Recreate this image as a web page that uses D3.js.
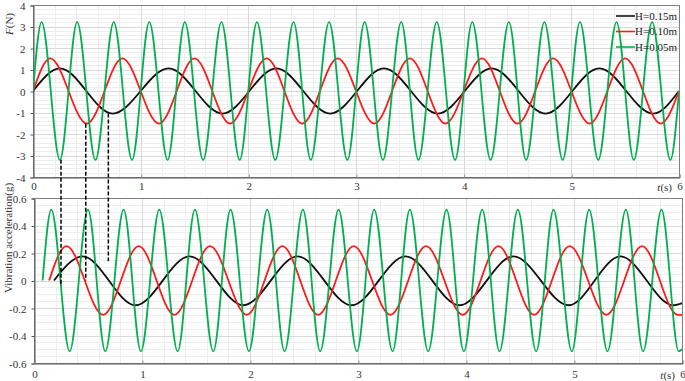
<!DOCTYPE html>
<html>
<head>
<meta charset="utf-8">
<script src="https://cdn.jsdelivr.net/npm/d3@7"></script>
<style>
  body { margin: 0; background: #fff; }
  svg { display: block; font-family: "Liberation Serif", "Times New Roman", serif; }
</style>
</head>
<body>
<div id="chart"></div>
<script>
const width = 685;
const height = 381;

// x ticks (time, s)
const timeTicks = [0, 1, 2, 3, 4, 5, 6];
const forceTicks = [-4, -3, -2, -1, 0, 1, 2, 3, 4];
const accTicks = [-0.6, -0.4, -0.2, 0, 0.2, 0.4, 0.6];

const seriesNames = ["H=0.15m", "H=0.10m", "H=0.05m"];
const seriesColors = ["#111111", "#ff1a1a", "#00b050"];

// top panel: force F(N), extrema
const fBlackPeaks = [0.25, 1.26, 2.26, 3.26, 4.26, 5.26];
const fBlackTroughs = [0.74, 1.76, 2.76, 3.76, 4.76, 5.76];
const fBlackAmp = [1.05, -1.05];
const fRedPeaks = [0.16, 0.83, 1.5, 2.17, 2.83, 3.5, 4.17, 4.83, 5.5];
const fRedTroughs = [0.5, 1.17, 1.83, 2.5, 3.17, 3.83, 4.5, 5.17, 5.83];
const fRedAmp = [1.52, -1.52];
const fGreenPeaks = [0.08, 0.41, 0.75, 1.08, 1.41, 1.75, 2.08, 2.42, 2.75, 3.08, 3.42, 3.75, 4.08, 4.42, 4.75, 5.08, 5.42, 5.75];
const fGreenTroughs = [0.25, 0.58, 0.92, 1.25, 1.58, 1.92, 2.25, 2.58, 2.92, 3.25, 3.58, 3.92, 4.25, 4.58, 4.92, 5.25, 5.58, 5.92];
const fGreenAmp = [3.2, -3.2];
const fStarts = [[0, 0], [0, 0], [0, 0]];
const fEnds = [[6, 0], [6, 0], [6, 0]];

// bottom panel: vibration acceleration (g)
const aBlackPeaks = [0.45, 1.44, 2.44, 3.44, 4.44, 5.43];
const aBlackTroughs = [0.94, 1.94, 2.94, 3.94, 4.95, 5.92];
const aBlackAmp = [0.175, -0.18];
const aRedPeaks = [0.3, 0.97, 1.63, 2.3, 2.96, 3.63, 4.3, 4.96, 5.63];
const aRedTroughs = [0.64, 1.3, 1.97, 2.63, 3.3, 3.97, 4.63, 5.3, 5.96];
const aRedAmp = [0.25, -0.25];
const aGreenPeaks = [0.16, 0.5, 0.83, 1.16, 1.49, 1.82, 2.16, 2.49, 2.82, 3.15, 3.48, 3.82, 4.15, 4.48, 4.81, 5.14, 5.48, 5.81];
const aGreenTroughs = [0.33, 0.66, 0.99, 1.33, 1.66, 1.99, 2.32, 2.65, 2.99, 3.32, 3.65, 3.98, 4.31, 4.65, 4.98, 5.31, 5.64, 5.97];
const aGreenAmp = [0.515, -0.515];
const aStarts = [[0.185, 0], [0.14, 0], [0.08, 0]];
const aEnds = [[6, -0.165], [6, -0.25], [6, -0.5]];

// dashed guide lines: time, top value, bottom value
const guideTimes = [0.26, 0.49, 0.7];
const guideTop = [-3.2, -1.52, -1.05];
const guideBottom = [-0.04, 0, 0.14];

const buildSeries = (start, peaks, troughs, amp, end) => {
  const pts = [start]
    .concat(peaks.map((t) => [t, amp[0]]))
    .concat(troughs.map((t) => [t, amp[1]]))
    .concat([end]);
  return pts.sort((a, b) => a[0] - b[0]);
};

const forceData = [
  buildSeries(fStarts[0], fBlackPeaks, fBlackTroughs, fBlackAmp, fEnds[0]),
  buildSeries(fStarts[1], fRedPeaks, fRedTroughs, fRedAmp, fEnds[1]),
  buildSeries(fStarts[2], fGreenPeaks, fGreenTroughs, fGreenAmp, fEnds[2])
];
const accData = [
  buildSeries(aStarts[0], aBlackPeaks, aBlackTroughs, aBlackAmp, aEnds[0]),
  buildSeries(aStarts[1], aRedPeaks, aRedTroughs, aRedAmp, aEnds[1]),
  buildSeries(aStarts[2], aGreenPeaks, aGreenTroughs, aGreenAmp, aEnds[2])
];

const fmt = (d) => d3.format("~g")(d).replace("\u2212", "-");

const svg = d3
  .select("#chart")
  .append("svg")
  .attr("width", width)
  .attr("height", height);

const drawPanel = (opts) => {
  const x = d3.scaleLinear().domain([0, 6]).range([opts.left, opts.right]);
  const y = d3.scaleLinear().domain(opts.yDomain).range([opts.bottom, opts.top]);
  const g = svg.append("g");

  // minor grid
  g.append("g")
    .attr("stroke", "#eeeeee")
    .attr("stroke-width", 1)
    .call((s) => {
      s.selectAll(".vx")
        .data(d3.range(0, 30).map((i) => i * 0.2))
        .join("line")
        .attr("class", "vx")
        .attr("x1", (d) => Math.round(x(d)) + 0.5)
        .attr("x2", (d) => Math.round(x(d)) + 0.5)
        .attr("y1", opts.top)
        .attr("y2", opts.bottom);
      s.selectAll(".hy")
        .data(opts.minorY)
        .join("line")
        .attr("class", "hy")
        .attr("x1", opts.left)
        .attr("x2", opts.right)
        .attr("y1", (d) => Math.round(y(d)) + 0.5)
        .attr("y2", (d) => Math.round(y(d)) + 0.5);
    });

  // major grid
  g.append("g")
    .attr("stroke", "#d9d9d9")
    .attr("stroke-width", 1)
    .call((s) => {
      s.selectAll(".mx")
        .data(timeTicks)
        .join("line")
        .attr("class", "mx")
        .attr("x1", (d) => Math.round(x(d)) + 0.5)
        .attr("x2", (d) => Math.round(x(d)) + 0.5)
        .attr("y1", opts.top)
        .attr("y2", opts.bottom);
      s.selectAll(".my")
        .data(opts.yTicks)
        .join("line")
        .attr("class", "my")
        .attr("x1", opts.left)
        .attr("x2", opts.right)
        .attr("y1", (d) => Math.round(y(d)) + 0.5)
        .attr("y2", (d) => Math.round(y(d)) + 0.5);
    });

  // frame
  g.append("rect")
    .attr("x", opts.left + 0.5)
    .attr("y", opts.top + 0.5)
    .attr("width", opts.right - opts.left)
    .attr("height", opts.bottom - opts.top)
    .attr("fill", "none")
    .attr("stroke", "#7f7f7f");

  // y axis
  const yAxis = g
    .append("g")
    .attr("transform", `translate(${opts.left + 0.5},0.5)`)
    .call(d3.axisLeft(y).tickValues(opts.yTicks).tickSize(3).tickFormat(fmt));
  yAxis.select(".domain").attr("stroke", "#595959");
  yAxis.selectAll(".tick line").attr("stroke", "#595959");
  yAxis
    .selectAll("text")
    .attr("font-family", "Liberation Serif, serif")
    .attr("font-size", 11)
    .attr("fill", "#333")
    .attr("x", -8);

  // x axis
  const xAxis = g
    .append("g")
    .attr("transform", `translate(0.5,${opts.bottom + 0.5})`)
    .call(d3.axisBottom(x).tickValues(timeTicks).tickSize(-3).tickFormat(d3.format("d")));
  xAxis.select(".domain").attr("stroke", "#595959");
  xAxis.selectAll(".tick line").attr("stroke", "#9a9a9a");
  xAxis
    .selectAll("text")
    .attr("font-family", "Liberation Serif, serif")
    .attr("font-size", 11)
    .attr("fill", "#333")
    .attr("y", opts.xLabelDy);

  const tl = g
    .append("text")
    .attr("x", x(6) - 7)
    .attr("y", opts.bottom + opts.xLabelDy + 9)
    .attr("text-anchor", "end")
    .attr("font-size", 11)
    .attr("fill", "#333");
  tl.append("tspan").attr("font-style", "italic").text("t");
  tl.append("tspan").text("(s)");

  // clip
  const clipId = "clip" + opts.key;
  svg.append("clipPath")
    .attr("id", clipId)
    .append("rect")
    .attr("x", opts.left)
    .attr("y", opts.top)
    .attr("width", opts.right - opts.left)
    .attr("height", opts.bottom - opts.top);

  const line = d3
    .line()
    .x((d) => x(d[0]))
    .y((d) => y(d[1]))
    .curve(d3.curveMonotoneX);

  g.append("g")
    .attr("clip-path", `url(#${clipId})`)
    .selectAll("path")
    .data(opts.data)
    .join("path")
    .attr("fill", "none")
    .attr("stroke", (d, i) => seriesColors[i])
    .attr("stroke-width", 1.8)
    .attr("d", line);

  return { x, y };
};

const topPanel = drawPanel({
  key: "f",
  left: 33,
  right: 679,
  top: 5,
  bottom: 177,
  yDomain: [-4, 4],
  yTicks: forceTicks,
  minorY: d3.range(-20, 21).map((i) => i * 0.2),
  data: forceData,
  xLabelDy: 5
});

const bottomPanel = drawPanel({
  key: "a",
  left: 34,
  right: 682,
  top: 198,
  bottom: 363,
  yDomain: [-0.6, 0.6],
  yTicks: accTicks,
  minorY: d3.range(-12, 13).map((i) => i * 0.05),
  data: accData,
  xLabelDy: 7
});

// axis titles
const ft = svg
  .append("text")
  .attr("transform", "translate(13,24) rotate(-90)")
  .attr("text-anchor", "middle")
  .attr("font-size", 11)
  .attr("fill", "#333");
ft.append("tspan").attr("font-style", "italic").text("F");
ft.append("tspan").text("(N)");

svg
  .append("text")
  .attr("transform", "translate(12,238) rotate(-90)")
  .attr("text-anchor", "middle")
  .attr("font-size", 11)
  .attr("fill", "#333")
  .text("Vibration acceleration(g)");

// dashed guides from force troughs down to acceleration
svg
  .append("g")
  .selectAll("line")
  .data(guideTimes)
  .join("line")
  .attr("x1", (d) => topPanel.x(d))
  .attr("x2", (d) => topPanel.x(d))
  .attr("y1", (d, i) => topPanel.y(guideTop[i]))
  .attr("y2", (d, i) => bottomPanel.y(guideBottom[i]))
  .attr("stroke", "#000")
  .attr("stroke-width", 1.5)
  .attr("stroke-dasharray", "4,2");

// legend
const legend = svg
  .append("g")
  .selectAll("g")
  .data(seriesNames)
  .join("g")
  .attr("transform", (d, i) => `translate(616,${16 + i * 15.5})`);
legend
  .append("line")
  .attr("x1", 0)
  .attr("x2", 19)
  .attr("stroke", (d, i) => seriesColors[i])
  .attr("stroke-width", 1.6);
legend
  .append("text")
  .attr("x", 19)
  .attr("dy", "0.35em")
  .attr("font-size", 11)
  .attr("fill", "#222")
  .text((d) => d);
</script>
</body>
</html>
